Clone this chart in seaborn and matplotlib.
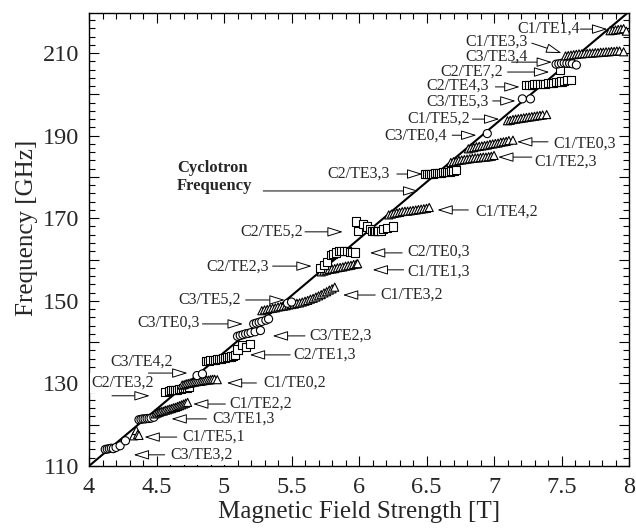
import matplotlib
matplotlib.use("Agg")
import pandas as pd
import matplotlib.pyplot as plt
import matplotlib.ticker as ticker
import seaborn as sns

# ── Data: cyclotron resonance line ─────────────────────────────────────
cyc_b = [4.0, 8.0]
cyc_f = [110.0, 220.0]

# ── Data: measured emission, one pair of lists per mode ────────────────
# C1 cavity (triangles)
c1_te51_b = [4.33, 4.35, 4.36, 4.37]
c1_te51_f = [117.3, 118.6, 117.6, 117.4]
c1_te22_b = [4.49, 4.505, 4.52, 4.535, 4.55, 4.565, 4.58, 4.595, 4.61, 4.625, 4.64,
             4.655, 4.67, 4.685, 4.70, 4.715, 4.73]
c1_te22_f = [122.6, 122.8, 123.0, 123.2, 123.3, 123.5, 123.6, 123.8, 123.9, 124.1, 124.2,
             124.4, 124.6, 124.8, 125.0, 125.2, 125.4]
c1_te02_b = [4.69, 4.705, 4.72, 4.735, 4.75, 4.765, 4.78, 4.795, 4.81, 4.825, 4.84,
             4.855, 4.87, 4.885, 4.90, 4.915, 4.93, 4.95]
c1_te02_f = [129.6, 129.7, 129.9, 130.0, 130.1, 130.2, 130.3, 130.4, 130.5, 130.5, 130.6,
             130.7, 130.8, 130.8, 130.9, 131.0, 131.0, 130.9]
c1_te32_b = [5.28, 5.30, 5.32, 5.34, 5.36, 5.38, 5.40, 5.42, 5.44, 5.46, 5.48, 5.50,
             5.52, 5.54, 5.56, 5.58, 5.60, 5.62, 5.64, 5.66, 5.68, 5.70, 5.72, 5.74,
             5.76, 5.78, 5.80, 5.82]
c1_te32_f = [147.6, 147.8, 147.9, 148.1, 148.2, 148.3, 148.5, 148.6, 148.7, 148.8, 149.0, 149.1,
             149.2, 149.4, 149.5, 149.7, 149.9, 150.1, 150.4, 150.6, 150.9, 151.2, 151.5, 151.9,
             152.2, 152.6, 152.9, 153.3]
c1_te13_b = [5.72, 5.74, 5.76, 5.78, 5.80, 5.82, 5.84, 5.86, 5.88, 5.90, 5.92, 5.94,
             5.96, 5.98, 5.99]
c1_te13_f = [157.0, 157.2, 157.4, 157.6, 157.7, 157.8, 158.0, 158.1, 158.2, 158.4, 158.5, 158.6,
             158.8, 158.9, 159.0]
c1_te42_b = [6.22, 6.24, 6.26, 6.28, 6.30, 6.32, 6.34, 6.36, 6.38, 6.40, 6.42, 6.44,
             6.46, 6.48, 6.50, 6.52]
c1_te42_f = [170.8, 171.0, 171.2, 171.3, 171.4, 171.6, 171.7, 171.7, 171.8, 171.9, 172.0, 172.1,
             172.2, 172.3, 172.4, 172.6]
c1_te23_b = [6.68, 6.70, 6.72, 6.74, 6.76, 6.78, 6.80, 6.82, 6.84, 6.86, 6.88, 6.90,
             6.92, 6.94, 6.96, 6.98, 7.00]
c1_te23_f = [183.5, 183.7, 183.8, 184.0, 184.1, 184.2, 184.3, 184.4, 184.5, 184.6, 184.6, 184.7,
             184.8, 184.8, 184.9, 185.0, 185.2]
c1_te03_b = [6.81, 6.83, 6.85, 6.87, 6.89, 6.91, 6.93, 6.95, 6.97, 6.99, 7.01, 7.03,
             7.05, 7.07, 7.09, 7.11, 7.14]
c1_te03_f = [186.8, 187.0, 187.1, 187.3, 187.4, 187.5, 187.6, 187.7, 187.9, 188.0, 188.1, 188.2,
             188.4, 188.5, 188.6, 188.8, 188.9]
c1_te52_b = [7.10, 7.12, 7.14, 7.16, 7.18, 7.20, 7.22, 7.24, 7.26, 7.28, 7.30, 7.32,
             7.34, 7.36, 7.39]
c1_te52_f = [193.6, 193.7, 193.9, 194.0, 194.1, 194.2, 194.3, 194.4, 194.5, 194.6, 194.7, 194.8,
             194.9, 195.0, 195.1]
c1_te33_b = [7.53, 7.55, 7.57, 7.59, 7.61, 7.63, 7.65, 7.67, 7.69, 7.71, 7.73, 7.75,
             7.77, 7.79, 7.81, 7.83, 7.85, 7.87, 7.89, 7.91, 7.93, 7.96]
c1_te33_f = [209.3, 209.4, 209.5, 209.6, 209.7, 209.8, 209.8, 209.9, 209.9, 210.0, 210.0, 210.1,
             210.1, 210.2, 210.2, 210.3, 210.3, 210.4, 210.4, 210.5, 210.5, 210.3]
c1_te14_b = [7.86, 7.88, 7.90, 7.92, 7.94, 7.96, 7.98]
c1_te14_f = [215.4, 215.5, 215.6, 215.7, 215.8, 215.9, 215.3]

# C2 cavity (squares)
c2_te32_b = [4.56, 4.59, 4.605, 4.62, 4.635, 4.65, 4.665, 4.68, 4.695, 4.71, 4.725, 4.74]
c2_te32_f = [128.0, 128.2, 128.3, 128.4, 128.4, 128.5, 128.6, 128.7, 128.8, 128.9, 129.0, 129.2]
c2_te13_b = [4.87, 4.885, 4.90, 4.915, 4.93, 4.945, 4.96, 4.975, 4.99, 5.005, 5.02, 5.035,
             5.05, 5.065, 5.08, 5.10, 5.13, 5.16, 5.19]
c2_te13_f = [135.5, 135.5, 135.6, 135.7, 135.7, 135.8, 135.9, 136.0, 136.1, 136.2, 136.3, 136.4,
             136.5, 136.7, 136.9, 138.2, 139.4, 138.8, 139.6]
c2_te23_b = [5.71, 5.74, 5.76]
c2_te23_f = [158.0, 158.6, 159.3]
c2_te03_b = [5.79, 5.81, 5.83, 5.85, 5.87, 5.89, 5.91, 5.93, 5.95, 5.97]
c2_te03_f = [161.0, 161.4, 161.7, 162.0, 162.1, 162.1, 162.0, 161.9, 161.8, 161.7]
c2_te52_b = [5.98, 5.99, 6.03, 6.06, 6.08, 6.10, 6.11, 6.12, 6.13, 6.14, 6.16, 6.18, 6.21, 6.25]
c2_te52_f = [169.2, 166.8, 168.6, 168.0, 167.3, 167.0, 166.9, 166.8, 166.8, 166.8, 167.0, 167.3,
             167.6, 168.0]
c2_te33_b = [6.49, 6.505, 6.52, 6.535, 6.55, 6.565, 6.58, 6.595, 6.61, 6.625, 6.64, 6.655,
             6.67, 6.685, 6.70, 6.72]
c2_te33_f = [180.6, 180.6, 180.7, 180.8, 180.8, 180.9, 180.9, 181.0, 181.0, 181.1, 181.1, 181.2,
             181.3, 181.4, 181.5, 181.6]
c2_te43_b = [7.24, 7.26, 7.28, 7.30, 7.32, 7.34, 7.36, 7.38, 7.40, 7.42, 7.44, 7.46,
             7.48, 7.50, 7.52, 7.54, 7.57]
c2_te43_f = [202.3, 202.3, 202.3, 202.4, 202.4, 202.5, 202.5, 202.6, 202.7, 202.7, 202.8, 202.9,
             203.0, 203.1, 203.3, 203.4, 203.5]
c2_te72_b = [7.49]
c2_te72_f = [205.9]

# C3 cavity (circles)
c3_te32_b = [4.12, 4.135, 4.15, 4.165, 4.18, 4.20, 4.23, 4.27]
c3_te32_f = [114.0, 114.1, 114.2, 114.3, 114.2, 114.5, 114.9, 116.1]
c3_te13_b = [4.37, 4.385, 4.40, 4.415, 4.43, 4.445, 4.46, 4.48]
c3_te13_f = [121.2, 121.3, 121.4, 121.4, 121.5, 121.5, 121.6, 121.8]
c3_te42_b = [4.80, 4.84]
c3_te42_f = [131.9, 132.3]
c3_te23_b = [5.10, 5.12, 5.14, 5.16, 5.18, 5.20, 5.23, 5.27]
c3_te23_f = [141.4, 141.6, 141.8, 142.0, 142.1, 142.3, 142.5, 142.8]
c3_te03_b = [5.22, 5.24, 5.26, 5.28, 5.31, 5.33]
c3_te03_f = [144.4, 144.6, 144.8, 145.0, 145.3, 145.6]
c3_te52_b = [5.47, 5.50]
c3_te52_f = [149.4, 149.7]
c3_te04_b = [6.95]
c3_te04_f = [190.5]
c3_te53_b = [7.21, 7.27]
c3_te53_f = [198.9, 198.9]
c3_te34_b = [7.46, 7.48, 7.50, 7.52, 7.54, 7.56, 7.58, 7.61]
c3_te34_f = [207.3, 207.4, 207.5, 207.6, 207.5, 207.5, 207.4, 207.1]

clusters = [
    ("C3", c3_te32_b, c3_te32_f), ("C1", c1_te51_b, c1_te51_f),
    ("C3", c3_te13_b, c3_te13_f), ("C1", c1_te22_b, c1_te22_f),
    ("C2", c2_te32_b, c2_te32_f), ("C1", c1_te02_b, c1_te02_f),
    ("C3", c3_te42_b, c3_te42_f), ("C2", c2_te13_b, c2_te13_f),
    ("C3", c3_te23_b, c3_te23_f), ("C3", c3_te03_b, c3_te03_f),
    ("C1", c1_te32_b, c1_te32_f), ("C3", c3_te52_b, c3_te52_f),
    ("C1", c1_te13_b, c1_te13_f), ("C2", c2_te23_b, c2_te23_f),
    ("C2", c2_te03_b, c2_te03_f), ("C2", c2_te52_b, c2_te52_f),
    ("C1", c1_te42_b, c1_te42_f), ("C2", c2_te33_b, c2_te33_f),
    ("C1", c1_te23_b, c1_te23_f), ("C1", c1_te03_b, c1_te03_f),
    ("C3", c3_te04_b, c3_te04_f), ("C1", c1_te52_b, c1_te52_f),
    ("C3", c3_te53_b, c3_te53_f), ("C2", c2_te43_b, c2_te43_f),
    ("C2", c2_te72_b, c2_te72_f), ("C3", c3_te34_b, c3_te34_f),
    ("C1", c1_te33_b, c1_te33_f), ("C1", c1_te14_b, c1_te14_f),
]

# mode labels: text, text anchor (B, f), arrow tail, arrow tip
labels = [
    ("C1/TE1,4", (7.17, 215.9), (7.64, 215.8), (7.84, 215.8)),
    ("C1/TE3,3", (6.79, 212.7), (7.28, 212.4), (7.50, 210.0)),
    ("C3/TE3,4", (6.79, 209.1), (7.13, 207.8), (7.43, 207.8)),
    ("C2/TE7,2", (6.60, 205.5), (7.10, 205.4), (7.41, 205.4)),
    ("C2/TE4,3", (6.50, 202.0), (7.01, 201.8), (7.19, 201.8)),
    ("C3/TE5,3", (6.50, 198.3), (6.99, 198.4), (7.16, 198.4)),
    ("C1/TE5,2", (6.36, 194.2), (6.84, 194.0), (7.04, 194.0)),
    ("C3/TE0,4", (6.19, 190.1), (6.69, 190.1), (6.87, 190.1)),
    ("C1/TE0,3", (7.44, 188.0), (7.40, 188.5), (7.17, 188.5)),
    ("C1/TE2,3", (7.30, 183.8), (7.28, 184.8), (7.03, 184.8)),
    ("C1/TE4,2", (6.86, 171.7), (6.81, 172.0), (6.58, 172.0)),
    ("C2/TE5,2", (5.12, 166.7), (5.60, 166.7), (5.88, 166.7)),
    ("C2/TE0,3", (6.36, 161.8), (6.32, 161.6), (6.08, 161.6)),
    ("C2/TE2,3", (4.87, 158.2), (5.36, 158.4), (5.65, 158.4)),
    ("C1/TE1,3", (6.36, 157.0), (6.33, 157.5), (6.10, 157.5)),
    ("C1/TE3,2", (6.16, 151.4), (6.12, 151.4), (5.88, 151.4)),
    ("C3/TE5,2", (4.66, 150.2), (5.16, 150.2), (5.45, 150.2)),
    ("C3/TE0,3", (4.36, 144.6), (4.84, 144.4), (5.14, 144.4)),
    ("C3/TE2,3", (5.63, 141.5), (5.60, 141.5), (5.36, 141.5)),
    ("C2/TE1,3", (5.51, 136.9), (5.49, 136.9), (5.19, 136.9)),
    ("C3/TE4,2", (4.16, 135.2), (4.44, 132.5), (4.73, 132.5)),
    ("C1/TE0,2", (5.29, 130.1), (5.24, 130.1), (5.02, 130.1)),
    ("C1/TE2,2", (5.04, 125.0), (5.01, 125.0), (4.77, 125.0)),
    ("C3/TE1,3", (4.91, 121.4), (4.87, 121.4), (4.61, 121.4)),
    ("C1/TE5,1", (4.69, 117.0), (4.65, 117.0), (4.41, 117.0)),
]
# labels that sit on the frame and mask it with a white box
boxed_labels = [
    ("C2/TE3,2", (4.02, 130.1), (4.17, 127.0), (4.45, 127.0)),
    ("C3/TE3,2", (4.60, 112.7), (4.56, 112.7), (4.33, 112.7)),
]
right_label = ("C2/TE3,3", (6.23, 180.7), (6.28, 180.7), (6.47, 180.7))

LABEL_SIZE = 11.5

# ── Style ──────────────────────────────────────────────────────────────
sns.set_theme(style="ticks")
plt.rcParams["font.family"] = ["Liberation Serif", "DejaVu Serif"]
plt.rcParams["axes.linewidth"] = 1.0
plt.rcParams["axes.edgecolor"] = "black"

rows = []
for cav, bs, fs in clusters:
    for b, f in zip(bs, fs):
        rows.append({"B": b, "f": f, "cavity": cav})
df = pd.DataFrame(rows)

fig = plt.figure(figsize=(6.36, 5.30), dpi=100)
ax = fig.add_axes([0.140, 0.1208, 0.849, 0.8547])

sns.lineplot(x=cyc_b, y=cyc_f, color="black", lw=1.5, ax=ax, zorder=2)
sns.scatterplot(
    data=df, x="B", y="f", style="cavity",
    markers={"C1": "^", "C2": "s", "C3": "o"},
    color="white", edgecolor="black", linewidth=0.8, s=34,
    legend=False, ax=ax, zorder=3,
)

arrow = dict(arrowstyle="-|>,head_length=0.8,head_width=0.25", fc="white",
             ec="black", lw=0.7, shrinkA=0, shrinkB=0)
for txt, pos, tail, tip in labels:
    ax.text(pos[0], pos[1], txt, fontsize=LABEL_SIZE, ha="left", va="center", zorder=5)
    ax.annotate("", xy=tip, xytext=tail, arrowprops=arrow, zorder=6)
for txt, pos, tail, tip in boxed_labels:
    ax.text(pos[0], pos[1], txt, fontsize=LABEL_SIZE, ha="left", va="center", zorder=5,
            clip_on=False, bbox=dict(boxstyle="square,pad=0.12", fc="white", ec="none"))
    ax.annotate("", xy=tip, xytext=tail, arrowprops=arrow, zorder=6)
txt, pos, tail, tip = right_label
ax.text(pos[0], pos[1], txt, fontsize=LABEL_SIZE, ha="right", va="center", zorder=5)
ax.annotate("", xy=tip, xytext=tail, arrowprops=arrow, zorder=6)

ax.text(4.65, 179.9, "Cyclotron\nFrequency", fontsize=12, fontweight="bold",
        ha="left", va="center", linespacing=1.15, zorder=5)
ax.annotate("", xy=(6.44, 176.6), xytext=(5.29, 176.6), arrowprops=arrow, zorder=6)

ax.set_xlim(4, 8)
ax.set_ylim(110, 219.7)
ax.xaxis.set_major_locator(ticker.MultipleLocator(0.5))
ax.xaxis.set_minor_locator(ticker.MultipleLocator(0.1))
ax.xaxis.set_major_formatter(ticker.FormatStrFormatter("%g"))
ax.yaxis.set_major_locator(ticker.MultipleLocator(10))
ax.yaxis.set_minor_locator(ticker.MultipleLocator(2))
ax.yaxis.set_major_formatter(ticker.FuncFormatter(
    lambda v, p: f"{v:g}" if round(v - 110) % 20 == 0 else ""))
ax.tick_params(which="both", direction="in", top=True, right=True, color="black", width=0.8)
ax.tick_params(which="major", length=7, labelsize=17.5)
ax.tick_params(which="minor", length=4)
ax.tick_params(axis="x", which="major", pad=8)
ax.tick_params(axis="y", which="major", pad=7)
for s in ax.spines.values():
    s.set_zorder(4)

ax.set_xlabel("Magnetic Field Strength [T]", fontsize=18, labelpad=2)
ax.set_ylabel("Frequency [GHz]", fontsize=18)
ax.yaxis.set_label_coords(-0.094, 0.525)

fig.savefig("out.png", dpi=100)
